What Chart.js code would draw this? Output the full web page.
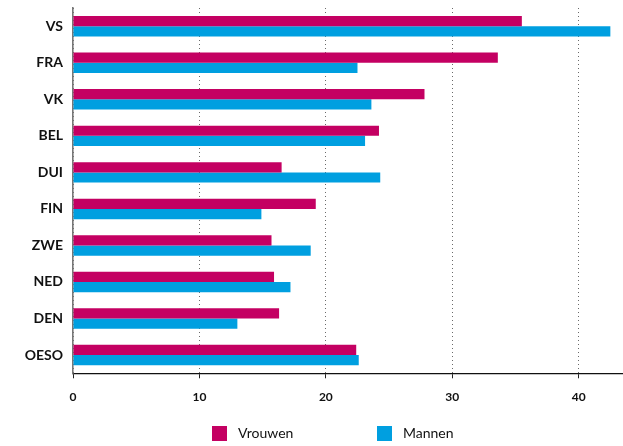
<!DOCTYPE html>
<html>
<head>
<meta charset="utf-8">
<script src="https://cdn.jsdelivr.net/npm/chart.js@4"></script>
<style>
  html, body { margin: 0; padding: 0; background: #fff; }
  #wrap { position: relative; width: 623px; height: 446px; }
  #c { position: absolute; left: 0; top: 0; }
  .leg { position: absolute; top: 424px; font: 14px Lato, sans-serif; color: #111; line-height: 18px; display: flex; align-items: center; }
  .leg span.box { display: inline-block; width: 15px; height: 15px; margin-right: 11px; }
</style>
</head>
<body>
<div id="wrap">
  <canvas id="c" width="623" height="446"></canvas>
  <div class="leg" style="left:212px"><span class="box" style="background:#C40062"></span>Vrouwen</div>
  <div class="leg" style="left:377px"><span class="box" style="background:#009FE0"></span>Mannen</div>
</div>
<script>
const categories = ["VS", "FRA", "VK", "BEL", "DUI", "FIN", "ZWE", "NED", "DEN", "OESO"];
const vrouwen = [35.5, 33.6, 27.8, 24.2, 16.5, 19.2, 15.7, 15.9, 16.3, 22.4];
const mannen  = [42.5, 22.5, 23.6, 23.1, 24.3, 14.9, 18.8, 17.2, 13.0, 22.6];
const seriesNames = ["Vrouwen", "Mannen"];
const seriesColors = ["#C40062", "#009FE0"];
const xMin = 0, xMax = 43.5, xStep = 10;

new Chart(document.getElementById('c'), {
  type: 'bar',
  data: {
    labels: categories,
    datasets: [
      { label: seriesNames[0], data: vrouwen, backgroundColor: seriesColors[0], borderWidth: 0 },
      { label: seriesNames[1], data: mannen, backgroundColor: seriesColors[1], borderWidth: 0 }
    ]
  },
  options: {
    indexAxis: 'y',
    responsive: false,
    animation: false,
    maintainAspectRatio: false,
    layout: { padding: { top: 8, left: 0, right: 0, bottom: 39 } },
    plugins: { legend: { display: false }, tooltip: { enabled: false } },
    datasets: { bar: { barPercentage: 1.0, categoryPercentage: 0.56 } },
    scales: {
      x: {
        min: xMin, max: xMax,
        ticks: { stepSize: xStep, includeBounds: false, padding: 12, color: '#111',
                 font: { family: 'Lato', size: 12, weight: 'bold' } },
        grid: { color: '#6a6a6a', lineWidth: 1, tickLength: 5, tickColor: '#222', tickWidth: 1,
                tickBorderDash: [] },
        border: { display: true, color: '#111', width: 1.2, dash: [1, 3] },
        afterFit: (s) => { s.paddingLeft = 0; s.paddingRight = 0; s.height = 33.7; }
      },
      y: {
        ticks: { padding: 10, color: '#111', font: { family: 'Lato', size: 14, weight: 'bold' } },
        grid: { display: false, drawTicks: false },
        border: { display: true, color: '#777', width: 1.6 },
        afterFit: (s) => { s.width = 73; s.paddingTop = 0; s.paddingBottom = 0; }
      }
    }
  }
});
</script>
</body>
</html>
